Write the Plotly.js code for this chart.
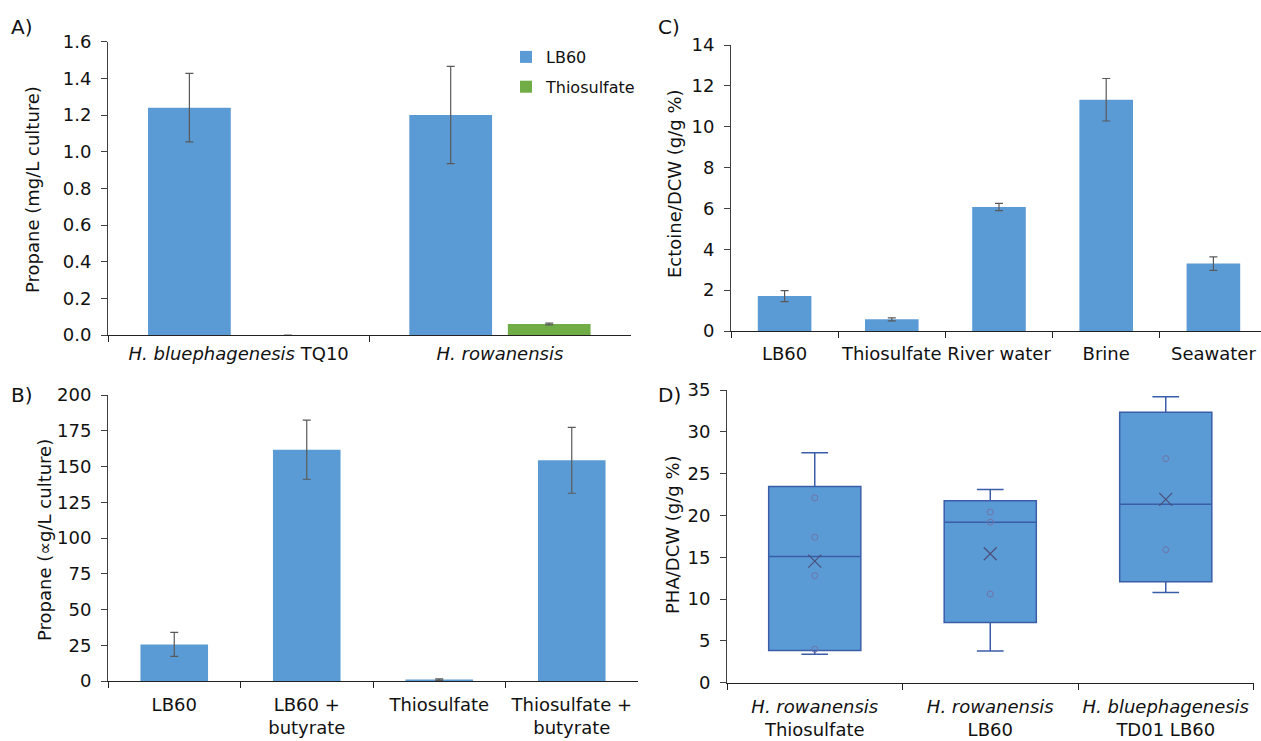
<!DOCTYPE html>
<html>
<head>
<meta charset="utf-8">
<script src="https://cdn.plot.ly/plotly-3.0.1.min.js"></script>
<style>html,body{margin:0;padding:0;background:#fff;}#chart{width:1261px;height:741px;}</style>
</head>
<body>
<div id="chart"></div>
<script>
// ---- Panel A data ----
const A_categories = ['<i>H. bluephagenesis</i> TQ10', '<i>H. rowanensis</i>'];
const A_lb60 = [1.24, 1.20];
const A_lb60_err = [0.187, 0.265];
const A_thio = [0, 0.06];
const A_thio_err = [null, 0.005];

// ---- Panel B data ----
const B_categories = ['LB60', 'LB60 +<br>butyrate', 'Thiosulfate', 'Thiosulfate +<br>butyrate'];
const B_values = [25.6, 161.8, 1.0, 154.3];
const B_err = [8.4, 20.7, 0.5, 23.0];

// ---- Panel C data ----
const C_categories = ['LB60', 'Thiosulfate', 'River water', 'Brine', 'Seawater'];
const C_values = [1.71, 0.57, 6.07, 11.32, 3.30];
const C_err = [0.27, 0.07, 0.18, 1.04, 0.33];

// ---- Panel D data (individual measurements) ----
const D_categories = ['<i>H. rowanensis</i><br>Thiosulfate', '<i>H. rowanensis</i><br>LB60', '<i>H. bluephagenesis</i><br>TD01 LB60'];
const D_rowan_thio = [27.5, 22.1, 17.4, 12.8, 4.0, 3.4];
const D_rowan_lb60 = [23.1, 20.4, 19.2, 10.6, 3.8];
const D_blue_td01 = [34.2, 26.8, 15.9, 10.8];

const BLUE = '#5B9BD5', GREEN = '#70AD47', ERR = '#595959';
const FONT = 'DejaVu Sans, Liberation Sans, Arial, sans-serif';
const TXT = '#111111';
const AX = '#404040';

// quartile (exclusive method, as used by spreadsheet box plots)
function quartileExc(sorted, p) {
  const n = sorted.length;
  const pos = p * (n + 1);
  const k = Math.floor(pos);
  const f = pos - k;
  if (k < 1) return sorted[0];
  if (k >= n) return sorted[n - 1];
  return sorted[k - 1] + f * (sorted[k] - sorted[k - 1]);
}
const D_sets = [D_rowan_thio, D_rowan_lb60, D_blue_td01];
const D_sorted = D_sets.map(a => a.slice().sort((x, y) => x - y));
const D_q1 = D_sorted.map(s => quartileExc(s, 0.25));
const D_med = D_sorted.map(s => quartileExc(s, 0.5));
const D_q3 = D_sorted.map(s => quartileExc(s, 0.75));
const D_lo = D_sorted.map(s => s[0]);
const D_hi = D_sorted.map(s => s[s.length - 1]);
const D_mean = D_sets.map(a => a.reduce((s, v) => s + v, 0) / a.length);
const innerX = [], innerY = [];
D_sorted.forEach((s, i) => s.slice(1, -1).forEach(v => { innerX.push(D_categories[i]); innerY.push(v); }));

const traces = [
  {type: 'bar', name: 'LB60', legendgroup: 'g1', x: A_categories, y: A_lb60, xaxis: 'x', yaxis: 'y',
   marker: {color: BLUE}, error_y: {type: 'data', array: A_lb60_err, color: ERR, thickness: 1.2, width: 4}},
  {type: 'bar', name: 'Thiosulfate', legendgroup: 'g2', x: A_categories, y: A_thio, xaxis: 'x', yaxis: 'y',
   marker: {color: GREEN}, error_y: {type: 'data', array: A_thio_err, color: ERR, thickness: 1.2, width: 4}},
  {type: 'bar', x: B_categories, y: B_values, xaxis: 'x2', yaxis: 'y2', width: 0.51, showlegend: false,
   marker: {color: BLUE}, error_y: {type: 'data', array: B_err, color: ERR, thickness: 1.2, width: 4}},
  {type: 'bar', x: C_categories, y: C_values, xaxis: 'x3', yaxis: 'y3', width: 0.5, showlegend: false,
   marker: {color: BLUE}, error_y: {type: 'data', array: C_err, color: ERR, thickness: 1.2, width: 4}},
  {type: 'box', x: D_categories, q1: D_q1, median: D_med, q3: D_q3, lowerfence: D_lo, upperfence: D_hi,
   xaxis: 'x4', yaxis: 'y4', showlegend: false, fillcolor: BLUE, line: {color: '#3A5DA8', width: 1.5},
   whiskerwidth: 0.29, boxpoints: false},
  {type: 'scatter', mode: 'markers', x: innerX, y: innerY, xaxis: 'x4', yaxis: 'y4', showlegend: false,
   marker: {symbol: 'circle-open', size: 6, color: '#7272A8', line: {width: 1}}},
  {type: 'scatter', mode: 'markers', x: D_categories, y: D_mean, xaxis: 'x4', yaxis: 'y4', showlegend: false,
   marker: {symbol: 'x-thin-open', size: 13, color: '#4A4F7A', line: {width: 1.2, color: '#4A4F7A'}}}
];

function yax(domain, range, dtick, fmt) {
  return {domain: domain, range: range, dtick: dtick, tickformat: fmt, showline: true, linecolor: AX, linewidth: 1,
          ticks: 'outside', ticklen: 6, tickcolor: AX, showgrid: false, zeroline: false, ticklabelstandoff: 6,
          tickfont: {size: 18, color: TXT, family: FONT}, fixedrange: true};
}
function xax(domain, anchor, standoff, range) {
  const o = {domain: domain, anchor: anchor, type: 'category', showline: true, linecolor: '#222', linewidth: 1.2,
          ticks: 'outside', tickson: 'boundaries', ticklen: 6, tickcolor: '#222', showgrid: false,
          tickangle: 0, ticklabelstandoff: standoff,
          tickfont: {size: 18, color: TXT, family: FONT}, fixedrange: true};
  if (range) o.range = range;
  return o;
}

const W = 1261, H = 741;
function ytitle(text, x, y) {
  return {text: text, x: x / W, y: 1 - y / H, xref: 'paper', yref: 'paper', xanchor: 'center', yanchor: 'middle',
          textangle: -90, showarrow: false, font: {size: 18, color: TXT, family: FONT}};
}
function plabel(text, x, y) {
  return {text: text, x: x / W, y: 1 - y / H, xref: 'paper', yref: 'paper', xanchor: 'left', yanchor: 'middle',
          showarrow: false, font: {size: 20, color: TXT, family: FONT}};
}

const layout = {
  width: W, height: H, margin: {l: 0, r: 0, t: 0, b: 0}, paper_bgcolor: '#fff', plot_bgcolor: 'rgba(0,0,0,0)',
  font: {family: FONT, color: TXT},
  barmode: 'group', bargap: 0.246, bargroupgap: 0.16, boxgap: 0.25,
  xaxis: xax([108 / W, 630.6 / W], 'y', 2),
  yaxis: Object.assign(yax([1 - 335 / H, 1 - 41.7 / H], [0, 1.6], 0.2, '.1f'), {anchor: 'x'}),
  xaxis2: xax([108 / W, 638 / W], 'y2', 7),
  yaxis2: Object.assign(yax([1 - 681 / H, 1 - 395 / H], [0, 200], 25), {anchor: 'x2'}),
  xaxis3: xax([731 / W, 1], 'y3', 6, [-0.5, 4.444]),
  yaxis3: Object.assign(yax([1 - 331 / H, 1 - 45 / H], [0, 14], 2), {anchor: 'x3'}),
  xaxis4: xax([727 / W, 1253.5 / W], 'y4', 7),
  yaxis4: Object.assign(yax([1 - 682.7 / H, 1 - 390 / H], [0, 35], 5), {anchor: 'x4'}),
  showlegend: true,
  legend: {x: 506 / W, y: 1 - 40 / H, xanchor: 'left', yanchor: 'top', font: {size: 16, color: TXT, family: FONT},
           bgcolor: 'rgba(0,0,0,0)', itemwidth: 30, tracegroupgap: 6},
  annotations: [
    plabel('A)', 9, 27), plabel('B)', 9, 395), plabel('C)', 656, 27), plabel('D)', 656, 395),
    ytitle('Propane (mg/L culture)', 33, 190),
    ytitle('Propane (\u221Dg/L culture)', 44, 540),
    ytitle('Ectoine/DCW (g/g %)', 674, 184),
    ytitle('PHA/DCW (g/g %)', 672, 535)
  ]
};

Plotly.newPlot('chart', traces, layout, {staticPlot: true, displayModeBar: false});
</script>
</body>
</html>
